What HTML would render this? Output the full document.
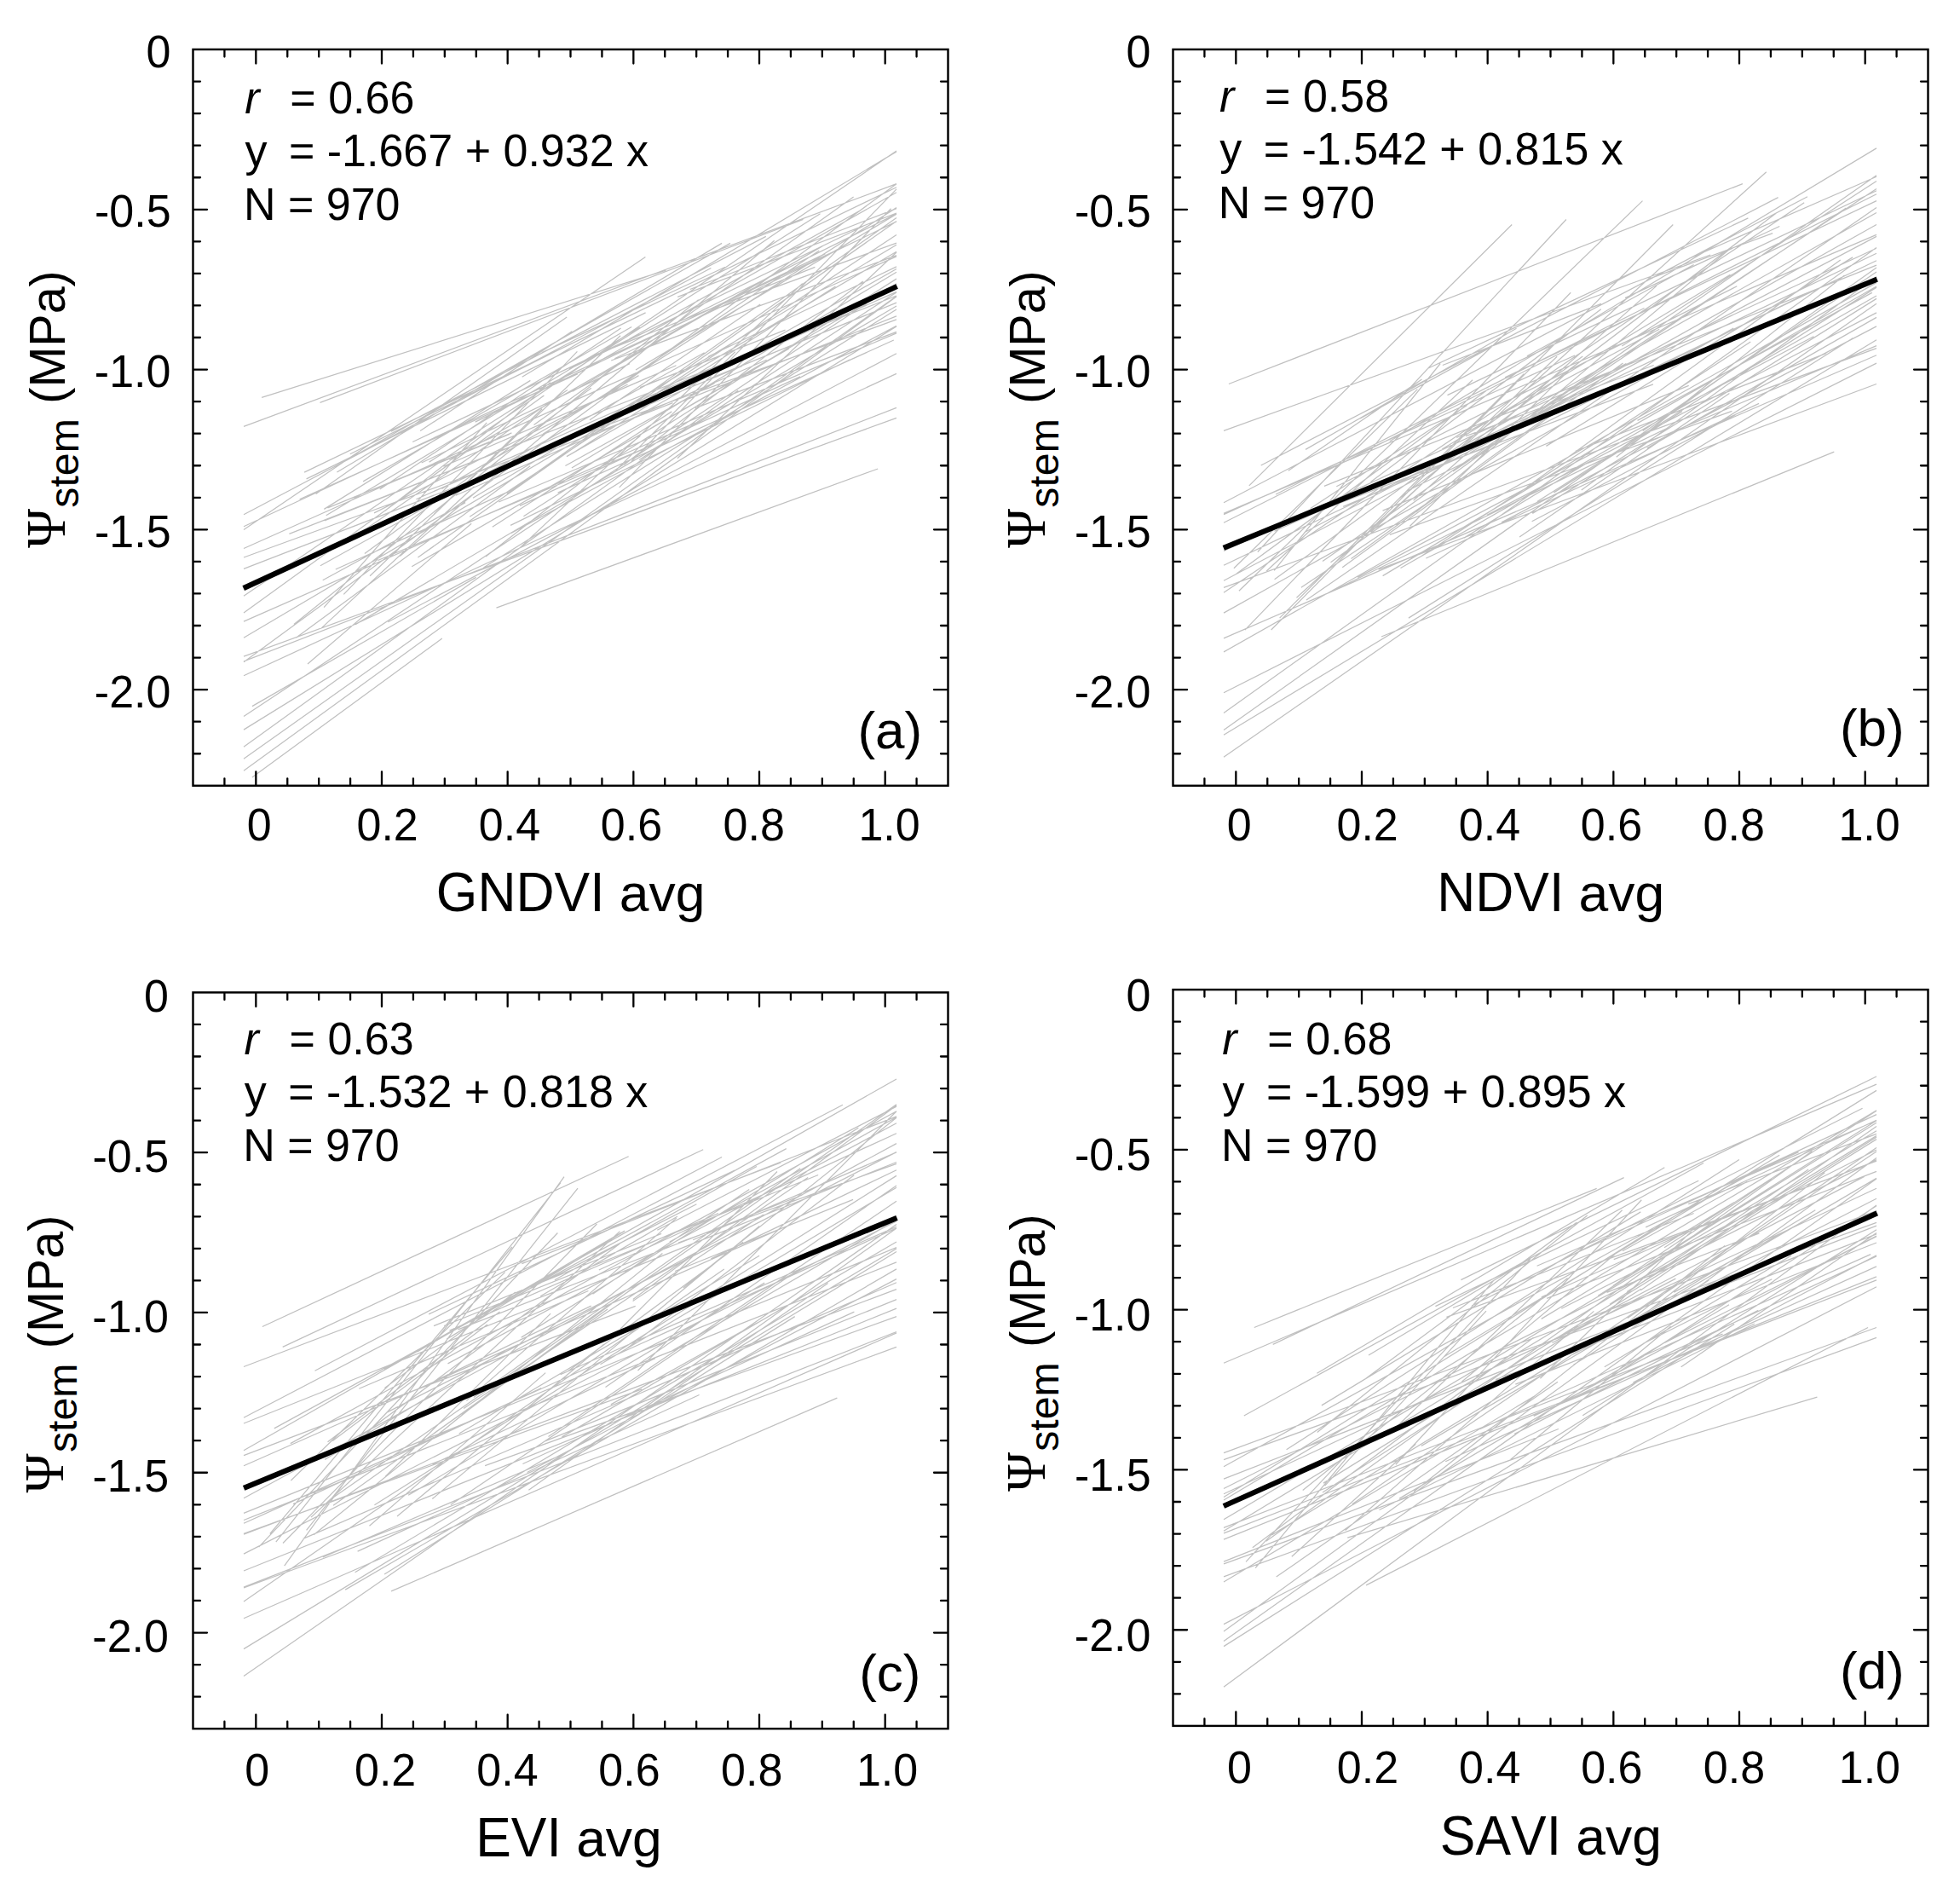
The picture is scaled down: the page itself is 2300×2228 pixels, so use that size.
<!DOCTYPE html>
<html><head><meta charset="utf-8"><title>Figure</title><style>
html,body{margin:0;padding:0;background:#fff;}
svg{display:block;}
text{fill:#000;font-kerning:none;}
.sans{font-family:'Liberation Sans',Arial,sans-serif;}
.serif{font-family:'Liberation Serif','Times New Roman',serif;}
.it{font-style:italic;}
</style></head><body>
<svg xmlns="http://www.w3.org/2000/svg" width="2300" height="2228" viewBox="0 0 2300 2228">
<rect width="2300" height="2228" fill="#fff"/>
<path d="M286.0 500.3L1052.0 215.7M286.0 603.7L834.4 314.5M286.0 617.7L1014.6 278.3M286.0 621.6L757.4 301.4M286.0 643.5L1052.0 300.9M286.0 667.4L789.5 472.7M286.0 699.2L1052.0 177.0M286.0 719.1L638.4 464.0M286.0 729.1L815.9 496.1M286.0 776.8L1052.0 215.7M286.0 792.8L1052.0 438.4M286.0 840.5L1052.0 332.7M286.0 876.3L866.3 457.9M286.0 890.3L1052.0 347.4M286.0 904.2L1052.0 348.1M612.7 442.3L1052.0 177.9M357.1 554.1L1052.0 219.7M678.8 437.5L1052.0 225.7M637.1 509.2L1052.0 243.6M595.0 579.0L1052.0 255.5M490.4 653.9L1052.0 259.5M551.2 606.2L1052.0 275.4M555.0 584.3L1052.0 287.3M286.0 748.3L1052.0 295.3M670.9 549.0L1052.0 319.2M614.4 605.8L1052.0 327.1M654.7 565.9L1052.0 335.1M339.4 626.3L1052.0 347.0M417.5 732.4L1052.0 359.0M567.4 666.0L1052.0 363.0M286.0 654.0L1052.0 374.9M286.0 856.1L1052.0 382.9M585.2 589.0L1052.0 390.8M455.3 729.8L1052.0 414.7M286.0 775.9L1052.0 478.4M286.0 770.2L1052.0 490.3M307.1 466.4L781.4 317.2M375.5 472.4L942.6 257.5M582.5 713.2L1030.2 550.0M295.9 912.1L518.8 749.0M295.9 828.6L558.6 677.4M417.3 534.1L857.0 285.4M459.1 506.2L898.8 277.4M395.4 554.0L847.1 285.4M359.6 561.9L757.6 366.9M351.6 585.8L678.0 438.6M361.0 779.0L553.2 614.2M600.0 625.4L1052.0 382.2M746.0 434.0L1052.0 251.2M441.0 573.3L597.9 509.4M671.9 459.2L965.3 288.6M726.7 571.9L1045.5 244.8M458.3 653.2L636.1 479.7M518.4 573.5L749.5 440.6M654.6 578.1L1048.8 399.0M795.2 348.4L1052.0 250.1M382.7 604.8L750.7 384.0M577.8 618.2L788.3 482.9M376.7 737.4L556.5 570.7M445.7 574.0L728.6 385.1M664.9 535.6L1052.0 315.5M797.8 471.8L1052.0 370.8M378.7 680.7L546.1 589.6M488.4 585.7L890.0 408.6M380.3 597.4L622.4 446.4M410.8 532.7L671.1 402.8M557.6 495.1L968.5 297.6M804.6 374.0L1052.0 250.9M520.4 547.3L793.5 428.7M717.2 423.0L1052.0 299.6M610.4 642.4L941.6 332.6M710.7 493.9L1052.0 342.4M599.1 616.4L997.1 422.0M674.2 530.2L980.5 336.0M794.9 537.7L1052.0 296.0M740.6 541.8L1052.0 221.9M493.1 505.4L671.3 388.8M370.7 579.6L665.2 371.9M393.8 668.0L595.5 577.4M635.6 413.9L850.6 313.5M716.5 458.1L961.3 294.0M469.3 652.5L908.7 282.2M815.8 478.9L1052.0 389.4M738.4 397.7L1007.9 247.9M832.3 365.1L1052.0 285.1M417.7 628.8L665.9 457.5M722.9 551.6L862.7 412.8M380.7 610.8L611.3 519.3M732.3 545.2L1012.7 330.1M443.4 657.5L766.5 521.8M494.6 543.0L739.0 426.6M695.4 417.7L956.4 313.3M527.3 540.4L906.8 322.4M344.9 732.4L819.6 351.7M484.2 518.5L750.6 392.4M534.8 581.2L899.6 422.2M503.6 542.1L962.5 250.7M751.0 454.6L921.5 387.1M692.0 492.7L892.2 357.0M384.5 595.8L600.4 507.9M375.9 663.7L826.6 413.8M721.2 420.7L1052.0 259.9M347.4 748.3L622.2 546.8M668.1 432.9L1013.3 265.2M663.4 546.5L838.6 449.5M750.2 539.5L1052.0 342.9M612.4 536.3L871.0 429.3M809.7 339.5L1052.0 244.6M626.5 498.6L1001.6 231.1M570.0 652.9L751.3 511.4M610.0 593.4L939.0 441.9M833.2 444.2L1052.0 355.2M483.2 664.8L926.0 409.0M830.7 418.5L1052.0 312.9M439.0 601.9L736.6 451.0M426.1 564.9L741.2 383.5M403.3 697.4L677.4 412.4M434.1 675.8L728.1 393.8M380.1 712.7L571.2 495.8M451.8 599.3L646.1 448.7M427.9 649.6L693.9 455.2" stroke="#c0c0c0" stroke-width="1.25" fill="none"/>
<path d="M285.7 690.1L1052.6 336.0" stroke="#000" stroke-width="6.3" fill="none"/>
<path d="M263.42 920.8V913.3M263.42 59V66.5M300.33 920.8V905.3M300.33 59V74.5M337.25 920.8V913.3M337.25 59V66.5M374.17 920.8V913.3M374.17 59V66.5M411.08 920.8V913.3M411.08 59V66.5M448 920.8V905.3M448 59V74.5M484.92 920.8V913.3M484.92 59V66.5M521.83 920.8V913.3M521.83 59V66.5M558.75 920.8V913.3M558.75 59V66.5M595.67 920.8V905.3M595.67 59V74.5M632.58 920.8V913.3M632.58 59V66.5M669.5 920.8V913.3M669.5 59V66.5M706.42 920.8V913.3M706.42 59V66.5M743.33 920.8V905.3M743.33 59V74.5M780.25 920.8V913.3M780.25 59V66.5M817.17 920.8V913.3M817.17 59V66.5M854.08 920.8V913.3M854.08 59V66.5M891 920.8V905.3M891 59V74.5M927.92 920.8V913.3M927.92 59V66.5M964.83 920.8V913.3M964.83 59V66.5M1001.75 920.8V913.3M1001.75 59V66.5M1038.67 920.8V905.3M1038.67 59V74.5M1075.58 920.8V913.3M1075.58 59V66.5M227.5 95.56H235M1111.5 95.56H1104M227.5 133.11H235M1111.5 133.11H1104M227.5 170.67H235M1111.5 170.67H1104M227.5 208.23H235M1111.5 208.23H1104M227.5 245.78H243M1111.5 245.78H1096M227.5 283.34H235M1111.5 283.34H1104M227.5 320.9H235M1111.5 320.9H1104M227.5 358.45H235M1111.5 358.45H1104M227.5 396.01H235M1111.5 396.01H1104M227.5 433.57H243M1111.5 433.57H1096M227.5 471.12H235M1111.5 471.12H1104M227.5 508.68H235M1111.5 508.68H1104M227.5 546.23H235M1111.5 546.23H1104M227.5 583.79H235M1111.5 583.79H1104M227.5 621.35H243M1111.5 621.35H1096M227.5 658.9H235M1111.5 658.9H1104M227.5 696.46H235M1111.5 696.46H1104M227.5 734.02H235M1111.5 734.02H1104M227.5 771.57H235M1111.5 771.57H1104M227.5 809.13H243M1111.5 809.13H1096M227.5 846.69H235M1111.5 846.69H1104M227.5 884.24H235M1111.5 884.24H1104" stroke="#000" stroke-width="2.3" stroke-linecap="round" fill="none"/>
<rect x="226.5" y="58" width="886" height="863.8" stroke="#000" stroke-width="2.45" fill="none"/>
<text class="sans" transform="translate(171.51,78.60) scale(1,1.0350)" x="0.00" y="0" style="font-size:52.00px">0</text>
<text class="sans" transform="translate(110.98,266.38) scale(1,1.0000)" x="0.00" y="0" style="font-size:52.00px">-</text>
<text class="sans" transform="translate(128.30,266.38) scale(1,1.0350)" x="0.00" y="0" style="font-size:52.00px">0</text>
<text class="sans" transform="translate(157.22,266.38) scale(1,1.0000)" x="0.00" y="0" style="font-size:52.00px">.</text>
<text class="sans" transform="translate(171.66,266.38) scale(1,1.0350)" x="0.00" y="0" style="font-size:52.00px">5</text>
<text class="sans" transform="translate(110.83,454.17) scale(1,1.0000)" x="0.00" y="0" style="font-size:52.00px">-</text>
<text class="sans" transform="translate(128.14,454.17) scale(1,1.0350)" x="0.00" y="0" style="font-size:52.00px">1</text>
<text class="sans" transform="translate(157.06,454.17) scale(1,1.0000)" x="0.00" y="0" style="font-size:52.00px">.</text>
<text class="sans" transform="translate(171.51,454.17) scale(1,1.0350)" x="0.00" y="0" style="font-size:52.00px">0</text>
<text class="sans" transform="translate(110.98,641.95) scale(1,1.0000)" x="0.00" y="0" style="font-size:52.00px">-</text>
<text class="sans" transform="translate(128.30,641.95) scale(1,1.0350)" x="0.00" y="0" style="font-size:52.00px">1</text>
<text class="sans" transform="translate(157.22,641.95) scale(1,1.0000)" x="0.00" y="0" style="font-size:52.00px">.</text>
<text class="sans" transform="translate(171.66,641.95) scale(1,1.0350)" x="0.00" y="0" style="font-size:52.00px">5</text>
<text class="sans" transform="translate(110.83,829.73) scale(1,1.0000)" x="0.00" y="0" style="font-size:52.00px">-</text>
<text class="sans" transform="translate(128.14,829.73) scale(1,1.0350)" x="0.00" y="0" style="font-size:52.00px">2</text>
<text class="sans" transform="translate(157.06,829.73) scale(1,1.0000)" x="0.00" y="0" style="font-size:52.00px">.</text>
<text class="sans" transform="translate(171.51,829.73) scale(1,1.0350)" x="0.00" y="0" style="font-size:52.00px">0</text>
<text class="sans" transform="translate(289.77,986.30) scale(1,1.0350)" x="0.00" y="0" style="font-size:52.00px">0</text>
<text class="sans" transform="translate(418.47,986.30) scale(1,1.0350)" x="0.00" y="0" style="font-size:52.00px">0</text>
<text class="sans" transform="translate(447.39,986.30) scale(1,1.0000)" x="0.00" y="0" style="font-size:52.00px">.</text>
<text class="sans" transform="translate(461.84,986.30) scale(1,1.0350)" x="0.00" y="0" style="font-size:52.00px">2</text>
<text class="sans" transform="translate(561.77,986.30) scale(1,1.0350)" x="0.00" y="0" style="font-size:52.00px">0</text>
<text class="sans" transform="translate(590.69,986.30) scale(1,1.0000)" x="0.00" y="0" style="font-size:52.00px">.</text>
<text class="sans" transform="translate(605.14,986.30) scale(1,1.0350)" x="0.00" y="0" style="font-size:52.00px">4</text>
<text class="sans" transform="translate(704.87,986.30) scale(1,1.0350)" x="0.00" y="0" style="font-size:52.00px">0</text>
<text class="sans" transform="translate(733.79,986.30) scale(1,1.0000)" x="0.00" y="0" style="font-size:52.00px">.</text>
<text class="sans" transform="translate(748.24,986.30) scale(1,1.0350)" x="0.00" y="0" style="font-size:52.00px">6</text>
<text class="sans" transform="translate(848.57,986.30) scale(1,1.0350)" x="0.00" y="0" style="font-size:52.00px">0</text>
<text class="sans" transform="translate(877.49,986.30) scale(1,1.0000)" x="0.00" y="0" style="font-size:52.00px">.</text>
<text class="sans" transform="translate(891.94,986.30) scale(1,1.0350)" x="0.00" y="0" style="font-size:52.00px">8</text>
<text class="sans" transform="translate(1007.44,986.30) scale(1,1.0350)" x="0.00" y="0" style="font-size:52.00px">1</text>
<text class="sans" transform="translate(1036.36,986.30) scale(1,1.0000)" x="0.00" y="0" style="font-size:52.00px">.</text>
<text class="sans" transform="translate(1050.81,986.30) scale(1,1.0350)" x="0.00" y="0" style="font-size:52.00px">0</text>
<text class="sans" transform="translate(511.86,1068.90) scale(1,1.0350)" x="0.00 48.54 93.60 138.66 180.28" y="0" style="font-size:62.40px">GNDVI</text>
<text class="sans" transform="translate(726.82,1068.90) scale(1,0.9850)" x="0.00 34.70 65.90" y="0" style="font-size:62.40px">avg</text>
<text class="serif" transform="translate(75.70,642.98) rotate(-90) scale(1,1.0350)" x="0.00" y="0" style="font-size:62.60px">Ψ</text>
<text class="sans" transform="translate(91.70,595.64) rotate(-90) scale(1,0.9850)" x="0.00 24.10 37.49 64.30" y="0" style="font-size:48.20px">stem</text>
<text class="sans" transform="translate(75.90,473.77) rotate(-90) scale(1,1.0000)" x="0.00" y="0" style="font-size:57.50px">(</text>
<text class="sans" transform="translate(75.90,454.62) rotate(-90) scale(1,1.0350)" x="0.00 47.90" y="0" style="font-size:57.50px">MP</text>
<text class="sans" transform="translate(75.90,368.37) rotate(-90) scale(1,0.9850)" x="0.00" y="0" style="font-size:57.50px">a</text>
<text class="sans" transform="translate(75.90,336.39) rotate(-90) scale(1,1.0000)" x="0.00" y="0" style="font-size:57.50px">)</text>
<text class="sans it" transform="translate(287.24,132.70) scale(1,0.9850)" x="0.00" y="0" style="font-size:52.00px">r</text>
<text class="sans" transform="translate(340.36,132.70) scale(1,1.0000)" x="0.00" y="0" style="font-size:52.00px">=</text>
<text class="sans" transform="translate(385.18,132.70) scale(1,1.0350)" x="0.00" y="0" style="font-size:52.00px">0</text>
<text class="sans" transform="translate(414.10,132.70) scale(1,1.0000)" x="0.00" y="0" style="font-size:52.00px">.</text>
<text class="sans" transform="translate(428.54,132.70) scale(1,1.0350)" x="0.00 28.92" y="0" style="font-size:52.00px">66</text>
<text class="sans" transform="translate(287.47,195.00) scale(1,0.9850)" x="0.00" y="0" style="font-size:52.00px">y</text>
<text class="sans" transform="translate(338.96,195.00) scale(1,1.0000)" x="0.00 30.37 44.81" y="0" style="font-size:52.00px">= -</text>
<text class="sans" transform="translate(401.09,195.00) scale(1,1.0350)" x="0.00" y="0" style="font-size:52.00px">1</text>
<text class="sans" transform="translate(430.01,195.00) scale(1,1.0000)" x="0.00" y="0" style="font-size:52.00px">.</text>
<text class="sans" transform="translate(444.46,195.00) scale(1,1.0350)" x="0.00 28.92 57.84" y="0" style="font-size:52.00px">667</text>
<text class="sans" transform="translate(545.67,195.00) scale(1,1.0000)" x="0.00" y="0" style="font-size:52.00px">+</text>
<text class="sans" transform="translate(590.48,195.00) scale(1,1.0350)" x="0.00" y="0" style="font-size:52.00px">0</text>
<text class="sans" transform="translate(619.40,195.00) scale(1,1.0000)" x="0.00" y="0" style="font-size:52.00px">.</text>
<text class="sans" transform="translate(633.85,195.00) scale(1,1.0350)" x="0.00 28.92 57.84" y="0" style="font-size:52.00px">932</text>
<text class="sans" transform="translate(735.05,195.00) scale(1,0.9850)" x="0.00" y="0" style="font-size:52.00px">x</text>
<text class="sans" transform="translate(285.93,257.60) scale(1,1.0350)" x="0.00" y="0" style="font-size:52.00px">N</text>
<text class="sans" transform="translate(337.93,257.60) scale(1,1.0000)" x="0.00" y="0" style="font-size:52.00px">=</text>
<text class="sans" transform="translate(382.75,257.60) scale(1,1.0350)" x="0.00 28.92 57.84" y="0" style="font-size:52.00px">970</text>
<text class="sans" transform="translate(1006.41,877.70) scale(1,1.0000)" x="0.00" y="0" style="font-size:62.00px">(</text>
<text class="sans" transform="translate(1027.06,877.70) scale(1,0.9850)" x="0.00" y="0" style="font-size:62.00px">a</text>
<text class="sans" transform="translate(1061.54,877.70) scale(1,1.0000)" x="0.00" y="0" style="font-size:62.00px">)</text>
<path d="M1436.0 505.4L2007.2 299.0M1436.0 589.8L2121.0 230.7M1436.0 603.7L1848.0 417.0M1436.0 681.3L2202.0 277.4M1436.0 695.3L2117.2 237.7M1436.0 719.1L2034.2 385.1M1436.0 764.9L2202.0 331.6M1436.0 812.7L2202.0 426.1M1436.0 836.5L2202.0 290.4M1436.0 856.4L2202.0 314.1M1436.0 888.3L2202.0 356.3M1630.7 517.8L2202.0 173.9M1552.0 658.4L2202.0 205.8M1698.5 463.6L2202.0 223.7M1436.0 613.2L2202.0 227.7M1766.1 442.9L2202.0 235.6M1533.0 704.0L2202.0 243.6M1667.7 550.8L2202.0 249.5M1724.5 531.5L2202.0 263.5M1436.0 602.4L2202.0 275.4M1436.0 646.5L2202.0 291.3M1436.0 663.2L2202.0 297.3M1553.9 570.4L2202.0 311.2M1803.8 588.5L2202.0 337.1M1643.5 666.5L2202.0 347.0M1744.9 604.2L2202.0 366.9M1762.0 612.9L2202.0 382.9M1436.0 862.3L2202.0 398.8M1436.0 689.4L2202.0 408.7M1436.0 748.9L2202.0 416.7M1617.6 668.2L2202.0 450.5M1465.8 569.9L1774.2 263.5M1475.8 647.5L1837.9 257.5M1453.9 693.3L1927.5 235.6M1491.7 739.0L1963.3 263.5M1521.5 701.2L2072.7 201.8M1621.0 747.0L2152.3 530.1M1479.7 546.0L2086.6 231.6M1441.9 450.5L2044.9 215.7M1501.6 725.1L1788.2 438.6M1652.9 725.1L2174.2 396.8M1593.2 677.4L2128.4 394.8M1673.4 655.0L2064.1 473.4M1718.4 630.9L1862.3 543.2M1929.8 436.7L2202.0 305.8M1675.1 432.5L2051.4 255.9M1692.2 527.0L2030.4 322.2M1538.0 603.2L1939.9 450.8M1791.7 571.4L2159.7 304.9M1495.5 623.3L1827.6 474.4M1936.0 326.8L2080.2 273.6M1575.2 665.7L1904.5 426.1M1526.9 689.2L1690.0 580.0M1906.7 505.1L2202.0 336.0M1630.8 627.3L2032.4 482.3M1692.8 428.5L1879.0 356.4M1530.5 624.7L1908.3 426.6M1709.3 513.5L1947.2 386.3M1783.1 630.0L2029.4 461.4M1797.6 611.8L2036.4 486.8M1982.0 303.4L2202.0 207.2M1705.1 553.0L2166.4 243.9M1622.6 675.6L1915.3 499.6M1650.8 576.2L2118.1 345.2M1596.2 491.0L1748.0 408.1M1576.2 594.3L1753.7 520.2M1932.7 525.9L2202.0 372.4M1668.3 652.3L2054.3 401.0M1759.9 512.0L2202.0 221.5M1823.4 577.9L1974.0 482.7M1814.4 523.4L2174.1 301.9M1511.8 552.3L1668.5 444.9M1930.1 520.5L2202.0 405.6M1720.2 511.7L1940.7 428.5M1907.0 349.6L2088.3 265.5M1798.3 602.4L2202.0 350.4M1896.7 536.2L2164.5 323.0M1532.0 527.4L1779.5 385.3M1791.9 417.8L1987.6 310.5M1559.5 695.3L1955.0 503.0M1927.7 505.6L2202.0 319.0M1903.3 406.0L2202.0 212.5M1568.3 570.8L2038.3 335.8M1848.8 529.3L2143.4 414.3M1497.1 580.0L1929.5 361.5M1855.7 575.0L2202.0 324.8M1641.7 585.0L2084.1 250.2M1921.5 493.4L2196.8 343.4M1495.6 679.7L1857.3 418.1M1622.5 599.2L1981.7 452.3M1563.4 592.5L1703.6 530.4M1537.8 596.6L1721.2 475.7M1460.9 739.1L1843.2 343.3M1608.4 565.6L1878.8 362.8M1447.9 666.7L1663.4 456.6M1654.5 617.2L1841.7 434.1M1495.2 669.3L1690.2 426.5M1561.5 659.7L1925.1 397.9M1608.6 624.5L1827.2 418.2M1658.6 587.3L1943.9 335.4M1585.5 655.5L1827.3 480.3M1662.1 600.4L2031.8 290.4M1451.1 673.0L1747.0 456.3M1486.2 670.0L1728.1 445.8" stroke="#c0c0c0" stroke-width="1.25" fill="none"/>
<path d="M1435.8 642.9L2202.7 327.7" stroke="#000" stroke-width="6.3" fill="none"/>
<path d="M1413.42 920.8V913.3M1413.42 59V66.5M1450.33 920.8V905.3M1450.33 59V74.5M1487.25 920.8V913.3M1487.25 59V66.5M1524.17 920.8V913.3M1524.17 59V66.5M1561.08 920.8V913.3M1561.08 59V66.5M1598 920.8V905.3M1598 59V74.5M1634.92 920.8V913.3M1634.92 59V66.5M1671.83 920.8V913.3M1671.83 59V66.5M1708.75 920.8V913.3M1708.75 59V66.5M1745.67 920.8V905.3M1745.67 59V74.5M1782.58 920.8V913.3M1782.58 59V66.5M1819.5 920.8V913.3M1819.5 59V66.5M1856.42 920.8V913.3M1856.42 59V66.5M1893.33 920.8V905.3M1893.33 59V74.5M1930.25 920.8V913.3M1930.25 59V66.5M1967.17 920.8V913.3M1967.17 59V66.5M2004.08 920.8V913.3M2004.08 59V66.5M2041 920.8V905.3M2041 59V74.5M2077.92 920.8V913.3M2077.92 59V66.5M2114.83 920.8V913.3M2114.83 59V66.5M2151.75 920.8V913.3M2151.75 59V66.5M2188.67 920.8V905.3M2188.67 59V74.5M2225.58 920.8V913.3M2225.58 59V66.5M1377.5 95.56H1385M2261.5 95.56H2254M1377.5 133.11H1385M2261.5 133.11H2254M1377.5 170.67H1385M2261.5 170.67H2254M1377.5 208.23H1385M2261.5 208.23H2254M1377.5 245.78H1393M2261.5 245.78H2246M1377.5 283.34H1385M2261.5 283.34H2254M1377.5 320.9H1385M2261.5 320.9H2254M1377.5 358.45H1385M2261.5 358.45H2254M1377.5 396.01H1385M2261.5 396.01H2254M1377.5 433.57H1393M2261.5 433.57H2246M1377.5 471.12H1385M2261.5 471.12H2254M1377.5 508.68H1385M2261.5 508.68H2254M1377.5 546.23H1385M2261.5 546.23H2254M1377.5 583.79H1385M2261.5 583.79H2254M1377.5 621.35H1393M2261.5 621.35H2246M1377.5 658.9H1385M2261.5 658.9H2254M1377.5 696.46H1385M2261.5 696.46H2254M1377.5 734.02H1385M2261.5 734.02H2254M1377.5 771.57H1385M2261.5 771.57H2254M1377.5 809.13H1393M2261.5 809.13H2246M1377.5 846.69H1385M2261.5 846.69H2254M1377.5 884.24H1385M2261.5 884.24H2254" stroke="#000" stroke-width="2.3" stroke-linecap="round" fill="none"/>
<rect x="1376.5" y="58" width="886" height="863.8" stroke="#000" stroke-width="2.45" fill="none"/>
<text class="sans" transform="translate(1321.51,78.60) scale(1,1.0350)" x="0.00" y="0" style="font-size:52.00px">0</text>
<text class="sans" transform="translate(1260.98,266.38) scale(1,1.0000)" x="0.00" y="0" style="font-size:52.00px">-</text>
<text class="sans" transform="translate(1278.30,266.38) scale(1,1.0350)" x="0.00" y="0" style="font-size:52.00px">0</text>
<text class="sans" transform="translate(1307.22,266.38) scale(1,1.0000)" x="0.00" y="0" style="font-size:52.00px">.</text>
<text class="sans" transform="translate(1321.66,266.38) scale(1,1.0350)" x="0.00" y="0" style="font-size:52.00px">5</text>
<text class="sans" transform="translate(1260.83,454.17) scale(1,1.0000)" x="0.00" y="0" style="font-size:52.00px">-</text>
<text class="sans" transform="translate(1278.14,454.17) scale(1,1.0350)" x="0.00" y="0" style="font-size:52.00px">1</text>
<text class="sans" transform="translate(1307.06,454.17) scale(1,1.0000)" x="0.00" y="0" style="font-size:52.00px">.</text>
<text class="sans" transform="translate(1321.51,454.17) scale(1,1.0350)" x="0.00" y="0" style="font-size:52.00px">0</text>
<text class="sans" transform="translate(1260.98,641.95) scale(1,1.0000)" x="0.00" y="0" style="font-size:52.00px">-</text>
<text class="sans" transform="translate(1278.30,641.95) scale(1,1.0350)" x="0.00" y="0" style="font-size:52.00px">1</text>
<text class="sans" transform="translate(1307.22,641.95) scale(1,1.0000)" x="0.00" y="0" style="font-size:52.00px">.</text>
<text class="sans" transform="translate(1321.66,641.95) scale(1,1.0350)" x="0.00" y="0" style="font-size:52.00px">5</text>
<text class="sans" transform="translate(1260.83,829.73) scale(1,1.0000)" x="0.00" y="0" style="font-size:52.00px">-</text>
<text class="sans" transform="translate(1278.14,829.73) scale(1,1.0350)" x="0.00" y="0" style="font-size:52.00px">2</text>
<text class="sans" transform="translate(1307.06,829.73) scale(1,1.0000)" x="0.00" y="0" style="font-size:52.00px">.</text>
<text class="sans" transform="translate(1321.51,829.73) scale(1,1.0350)" x="0.00" y="0" style="font-size:52.00px">0</text>
<text class="sans" transform="translate(1439.77,986.30) scale(1,1.0350)" x="0.00" y="0" style="font-size:52.00px">0</text>
<text class="sans" transform="translate(1568.47,986.30) scale(1,1.0350)" x="0.00" y="0" style="font-size:52.00px">0</text>
<text class="sans" transform="translate(1597.39,986.30) scale(1,1.0000)" x="0.00" y="0" style="font-size:52.00px">.</text>
<text class="sans" transform="translate(1611.84,986.30) scale(1,1.0350)" x="0.00" y="0" style="font-size:52.00px">2</text>
<text class="sans" transform="translate(1711.77,986.30) scale(1,1.0350)" x="0.00" y="0" style="font-size:52.00px">0</text>
<text class="sans" transform="translate(1740.69,986.30) scale(1,1.0000)" x="0.00" y="0" style="font-size:52.00px">.</text>
<text class="sans" transform="translate(1755.14,986.30) scale(1,1.0350)" x="0.00" y="0" style="font-size:52.00px">4</text>
<text class="sans" transform="translate(1854.87,986.30) scale(1,1.0350)" x="0.00" y="0" style="font-size:52.00px">0</text>
<text class="sans" transform="translate(1883.79,986.30) scale(1,1.0000)" x="0.00" y="0" style="font-size:52.00px">.</text>
<text class="sans" transform="translate(1898.24,986.30) scale(1,1.0350)" x="0.00" y="0" style="font-size:52.00px">6</text>
<text class="sans" transform="translate(1998.57,986.30) scale(1,1.0350)" x="0.00" y="0" style="font-size:52.00px">0</text>
<text class="sans" transform="translate(2027.49,986.30) scale(1,1.0000)" x="0.00" y="0" style="font-size:52.00px">.</text>
<text class="sans" transform="translate(2041.94,986.30) scale(1,1.0350)" x="0.00" y="0" style="font-size:52.00px">8</text>
<text class="sans" transform="translate(2157.44,986.30) scale(1,1.0350)" x="0.00" y="0" style="font-size:52.00px">1</text>
<text class="sans" transform="translate(2186.36,986.30) scale(1,1.0000)" x="0.00" y="0" style="font-size:52.00px">.</text>
<text class="sans" transform="translate(2200.81,986.30) scale(1,1.0350)" x="0.00" y="0" style="font-size:52.00px">0</text>
<text class="sans" transform="translate(1686.19,1068.90) scale(1,1.0350)" x="0.00 45.06 90.13 131.75" y="0" style="font-size:62.40px">NDVI</text>
<text class="sans" transform="translate(1852.61,1068.90) scale(1,0.9850)" x="0.00 34.70 65.90" y="0" style="font-size:62.40px">avg</text>
<text class="serif" transform="translate(1225.70,642.98) rotate(-90) scale(1,1.0350)" x="0.00" y="0" style="font-size:62.60px">Ψ</text>
<text class="sans" transform="translate(1241.70,595.64) rotate(-90) scale(1,0.9850)" x="0.00 24.10 37.49 64.30" y="0" style="font-size:48.20px">stem</text>
<text class="sans" transform="translate(1225.90,473.77) rotate(-90) scale(1,1.0000)" x="0.00" y="0" style="font-size:57.50px">(</text>
<text class="sans" transform="translate(1225.90,454.62) rotate(-90) scale(1,1.0350)" x="0.00 47.90" y="0" style="font-size:57.50px">MP</text>
<text class="sans" transform="translate(1225.90,368.37) rotate(-90) scale(1,0.9850)" x="0.00" y="0" style="font-size:57.50px">a</text>
<text class="sans" transform="translate(1225.90,336.39) rotate(-90) scale(1,1.0000)" x="0.00" y="0" style="font-size:57.50px">)</text>
<text class="sans it" transform="translate(1430.94,130.60) scale(1,0.9850)" x="0.00" y="0" style="font-size:52.00px">r</text>
<text class="sans" transform="translate(1484.06,130.60) scale(1,1.0000)" x="0.00" y="0" style="font-size:52.00px">=</text>
<text class="sans" transform="translate(1528.88,130.60) scale(1,1.0350)" x="0.00" y="0" style="font-size:52.00px">0</text>
<text class="sans" transform="translate(1557.80,130.60) scale(1,1.0000)" x="0.00" y="0" style="font-size:52.00px">.</text>
<text class="sans" transform="translate(1572.24,130.60) scale(1,1.0350)" x="0.00 28.92" y="0" style="font-size:52.00px">58</text>
<text class="sans" transform="translate(1431.17,192.90) scale(1,0.9850)" x="0.00" y="0" style="font-size:52.00px">y</text>
<text class="sans" transform="translate(1482.66,192.90) scale(1,1.0000)" x="0.00 30.37 44.81" y="0" style="font-size:52.00px">= -</text>
<text class="sans" transform="translate(1544.79,192.90) scale(1,1.0350)" x="0.00" y="0" style="font-size:52.00px">1</text>
<text class="sans" transform="translate(1573.71,192.90) scale(1,1.0000)" x="0.00" y="0" style="font-size:52.00px">.</text>
<text class="sans" transform="translate(1588.16,192.90) scale(1,1.0350)" x="0.00 28.92 57.84" y="0" style="font-size:52.00px">542</text>
<text class="sans" transform="translate(1689.37,192.90) scale(1,1.0000)" x="0.00" y="0" style="font-size:52.00px">+</text>
<text class="sans" transform="translate(1734.18,192.90) scale(1,1.0350)" x="0.00" y="0" style="font-size:52.00px">0</text>
<text class="sans" transform="translate(1763.10,192.90) scale(1,1.0000)" x="0.00" y="0" style="font-size:52.00px">.</text>
<text class="sans" transform="translate(1777.55,192.90) scale(1,1.0350)" x="0.00 28.92 57.84" y="0" style="font-size:52.00px">815</text>
<text class="sans" transform="translate(1878.75,192.90) scale(1,0.9850)" x="0.00" y="0" style="font-size:52.00px">x</text>
<text class="sans" transform="translate(1429.63,255.50) scale(1,1.0350)" x="0.00" y="0" style="font-size:52.00px">N</text>
<text class="sans" transform="translate(1481.63,255.50) scale(1,1.0000)" x="0.00" y="0" style="font-size:52.00px">=</text>
<text class="sans" transform="translate(1526.45,255.50) scale(1,1.0350)" x="0.00 28.92 57.84" y="0" style="font-size:52.00px">970</text>
<text class="sans" transform="translate(2158.91,874.90) scale(1,1.0000)" x="0.00" y="0" style="font-size:62.00px">(</text>
<text class="sans" transform="translate(2179.56,874.90) scale(1,0.9850)" x="0.00" y="0" style="font-size:62.00px">b</text>
<text class="sans" transform="translate(2214.04,874.90) scale(1,1.0000)" x="0.00" y="0" style="font-size:62.00px">)</text>
<path d="M286.0 1603.5L916.4 1363.9M286.0 1663.2L989.0 1296.2M286.0 1701.8L682.5 1475.3M286.0 1707.7L745.7 1532.4M286.0 1719.7L921.6 1439.3M286.0 1775.4L1052.0 1463.7M286.0 1787.3L1052.0 1440.9M286.0 1799.3L753.2 1629.9M286.0 1823.1L1052.0 1432.6M286.0 1843.0L1052.0 1535.2M286.0 1878.9L849.8 1488.9M286.0 1898.8L1052.0 1563.9M286.0 1934.6L1052.0 1468.5M286.0 1966.4L1052.0 1436.6M450.7 1606.4L1052.0 1266.0M391.4 1756.8L1052.0 1295.8M340.8 1693.6L1052.0 1303.8M612.3 1482.7L1052.0 1309.8M525.5 1599.9L1052.0 1317.7M702.8 1490.0L1052.0 1329.7M286.0 1757.7L1052.0 1341.6M454.5 1656.9L1052.0 1351.6M286.0 1670.0L1052.0 1363.5M439.4 1765.7L1052.0 1379.4M704.5 1600.8L1052.0 1393.3M643.5 1685.4L1052.0 1409.3M620.4 1748.3L1052.0 1441.1M659.4 1685.9L1052.0 1457.0M416.6 1844.7L1052.0 1465.0M286.0 1783.5L1052.0 1480.9M405.2 1865.1L1052.0 1488.9M355.6 1805.4L1052.0 1504.8M286.0 1800.1L1052.0 1512.7M639.5 1690.9L1052.0 1524.7M569.1 1719.6L1052.0 1544.6M286.0 1862.2L1052.0 1562.5M286.0 1863.0L1052.0 1580.4M333.7 1837.1L662.0 1380.6M323.8 1809.2L658.1 1387.4M307.9 1556.5L737.7 1356.7M331.7 1580.4L825.2 1348.8M369.5 1608.2L847.1 1357.5M459.1 1866.9L982.4 1640.1M321.8 1675.9L922.7 1347.6M359.6 1795.3L678.0 1394.1M451.1 1847.0L932.7 1544.6M507.4 1718.2L768.9 1593.6M344.0 1764.6L635.2 1628.6M451.4 1628.5L604.9 1516.1M742.6 1526.4L895.9 1425.0M732.4 1584.6L1002.2 1378.7M433.5 1790.3L640.2 1610.6M421.3 1629.3L690.4 1514.5M716.8 1647.9L888.9 1551.8M787.1 1585.7L1052.0 1431.2M834.3 1476.9L1052.0 1372.8M466.0 1779.0L708.3 1577.6M801.8 1511.1L1052.0 1311.3M749.2 1659.3L971.6 1505.6M514.1 1618.4L693.7 1532.1M479.2 1754.3L897.2 1505.1M503.1 1541.9L862.2 1373.1M547.4 1643.4L793.8 1429.1M613.4 1717.5L1002.4 1539.1M378.9 1827.0L664.2 1704.8M695.5 1518.3L879.2 1395.6M489.7 1585.9L729.3 1446.0M634.2 1520.7L794.9 1427.2M771.3 1443.3L1052.0 1298.2M650.9 1501.8L888.0 1368.5M507.3 1758.6L891.2 1438.4M538.7 1682.0L891.1 1473.3M710.5 1627.6L1052.0 1390.9M528.8 1765.4L939.5 1488.2M785.8 1457.0L1052.0 1310.8M657.6 1612.7L1052.0 1439.2M792.1 1491.5L1001.1 1407.4M611.7 1569.1L1007.4 1323.2M527.5 1561.1L842.9 1423.5M666.2 1608.9L872.1 1457.3M544.1 1652.4L948.2 1381.4M645.4 1500.4L817.4 1412.8M521.2 1555.5L960.2 1378.5M537.5 1559.8L941.5 1402.0M742.8 1524.4L1052.0 1297.0M509.0 1555.7L776.1 1447.4M524.2 1571.1L733.1 1444.1M368.1 1800.8L777.4 1470.5M381.1 1712.4L595.0 1583.2M748.5 1608.0L1052.0 1303.7M451.8 1732.7L646.1 1541.1M813.2 1454.7L1052.0 1351.9M796.0 1458.1L1052.0 1365.3M618.6 1727.5L1052.0 1500.6M419.6 1820.1L820.6 1636.5M728.0 1559.3L912.0 1374.5M303.6 1815.1L654.4 1446.5M316.8 1799.5L600.9 1463.0M341.4 1737.0L592.6 1492.6M555.8 1639.5L939.2 1370.7M332.0 1810.5L700.4 1436.0M400.4 1702.0L727.2 1459.3M391.1 1766.2L713.0 1536.1M390.3 1690.6L572.0 1554.1M365.0 1780.1L727.4 1444.6M541.9 1660.0L746.0 1508.7M384.5 1691.7L586.5 1539.1" stroke="#c0c0c0" stroke-width="1.25" fill="none"/>
<path d="M286.1 1745.8L1052.5 1428.9" stroke="#000" stroke-width="6.3" fill="none"/>
<path d="M263.42 2027.2V2019.7M263.42 1165.4V1172.9M300.33 2027.2V2011.7M300.33 1165.4V1180.9M337.25 2027.2V2019.7M337.25 1165.4V1172.9M374.17 2027.2V2019.7M374.17 1165.4V1172.9M411.08 2027.2V2019.7M411.08 1165.4V1172.9M448 2027.2V2011.7M448 1165.4V1180.9M484.92 2027.2V2019.7M484.92 1165.4V1172.9M521.83 2027.2V2019.7M521.83 1165.4V1172.9M558.75 2027.2V2019.7M558.75 1165.4V1172.9M595.67 2027.2V2011.7M595.67 1165.4V1180.9M632.58 2027.2V2019.7M632.58 1165.4V1172.9M669.5 2027.2V2019.7M669.5 1165.4V1172.9M706.42 2027.2V2019.7M706.42 1165.4V1172.9M743.33 2027.2V2011.7M743.33 1165.4V1180.9M780.25 2027.2V2019.7M780.25 1165.4V1172.9M817.17 2027.2V2019.7M817.17 1165.4V1172.9M854.08 2027.2V2019.7M854.08 1165.4V1172.9M891 2027.2V2011.7M891 1165.4V1180.9M927.92 2027.2V2019.7M927.92 1165.4V1172.9M964.83 2027.2V2019.7M964.83 1165.4V1172.9M1001.75 2027.2V2019.7M1001.75 1165.4V1172.9M1038.67 2027.2V2011.7M1038.67 1165.4V1180.9M1075.58 2027.2V2019.7M1075.58 1165.4V1172.9M227.5 1201.96H235M1111.5 1201.96H1104M227.5 1239.51H235M1111.5 1239.51H1104M227.5 1277.07H235M1111.5 1277.07H1104M227.5 1314.63H235M1111.5 1314.63H1104M227.5 1352.18H243M1111.5 1352.18H1096M227.5 1389.74H235M1111.5 1389.74H1104M227.5 1427.3H235M1111.5 1427.3H1104M227.5 1464.85H235M1111.5 1464.85H1104M227.5 1502.41H235M1111.5 1502.41H1104M227.5 1539.97H243M1111.5 1539.97H1096M227.5 1577.52H235M1111.5 1577.52H1104M227.5 1615.08H235M1111.5 1615.08H1104M227.5 1652.63H235M1111.5 1652.63H1104M227.5 1690.19H235M1111.5 1690.19H1104M227.5 1727.75H243M1111.5 1727.75H1096M227.5 1765.3H235M1111.5 1765.3H1104M227.5 1802.86H235M1111.5 1802.86H1104M227.5 1840.42H235M1111.5 1840.42H1104M227.5 1877.97H235M1111.5 1877.97H1104M227.5 1915.53H243M1111.5 1915.53H1096M227.5 1953.09H235M1111.5 1953.09H1104M227.5 1990.64H235M1111.5 1990.64H1104" stroke="#000" stroke-width="2.3" stroke-linecap="round" fill="none"/>
<rect x="226.5" y="1164.4" width="886" height="863.8" stroke="#000" stroke-width="2.45" fill="none"/>
<text class="sans" transform="translate(169.01,1187.00) scale(1,1.0350)" x="0.00" y="0" style="font-size:52.00px">0</text>
<text class="sans" transform="translate(108.48,1374.78) scale(1,1.0000)" x="0.00" y="0" style="font-size:52.00px">-</text>
<text class="sans" transform="translate(125.80,1374.78) scale(1,1.0350)" x="0.00" y="0" style="font-size:52.00px">0</text>
<text class="sans" transform="translate(154.72,1374.78) scale(1,1.0000)" x="0.00" y="0" style="font-size:52.00px">.</text>
<text class="sans" transform="translate(169.16,1374.78) scale(1,1.0350)" x="0.00" y="0" style="font-size:52.00px">5</text>
<text class="sans" transform="translate(108.33,1562.57) scale(1,1.0000)" x="0.00" y="0" style="font-size:52.00px">-</text>
<text class="sans" transform="translate(125.64,1562.57) scale(1,1.0350)" x="0.00" y="0" style="font-size:52.00px">1</text>
<text class="sans" transform="translate(154.56,1562.57) scale(1,1.0000)" x="0.00" y="0" style="font-size:52.00px">.</text>
<text class="sans" transform="translate(169.01,1562.57) scale(1,1.0350)" x="0.00" y="0" style="font-size:52.00px">0</text>
<text class="sans" transform="translate(108.48,1750.35) scale(1,1.0000)" x="0.00" y="0" style="font-size:52.00px">-</text>
<text class="sans" transform="translate(125.80,1750.35) scale(1,1.0350)" x="0.00" y="0" style="font-size:52.00px">1</text>
<text class="sans" transform="translate(154.72,1750.35) scale(1,1.0000)" x="0.00" y="0" style="font-size:52.00px">.</text>
<text class="sans" transform="translate(169.16,1750.35) scale(1,1.0350)" x="0.00" y="0" style="font-size:52.00px">5</text>
<text class="sans" transform="translate(108.33,1938.13) scale(1,1.0000)" x="0.00" y="0" style="font-size:52.00px">-</text>
<text class="sans" transform="translate(125.64,1938.13) scale(1,1.0350)" x="0.00" y="0" style="font-size:52.00px">2</text>
<text class="sans" transform="translate(154.56,1938.13) scale(1,1.0000)" x="0.00" y="0" style="font-size:52.00px">.</text>
<text class="sans" transform="translate(169.01,1938.13) scale(1,1.0350)" x="0.00" y="0" style="font-size:52.00px">0</text>
<text class="sans" transform="translate(287.27,2095.00) scale(1,1.0350)" x="0.00" y="0" style="font-size:52.00px">0</text>
<text class="sans" transform="translate(415.97,2095.00) scale(1,1.0350)" x="0.00" y="0" style="font-size:52.00px">0</text>
<text class="sans" transform="translate(444.89,2095.00) scale(1,1.0000)" x="0.00" y="0" style="font-size:52.00px">.</text>
<text class="sans" transform="translate(459.34,2095.00) scale(1,1.0350)" x="0.00" y="0" style="font-size:52.00px">2</text>
<text class="sans" transform="translate(559.27,2095.00) scale(1,1.0350)" x="0.00" y="0" style="font-size:52.00px">0</text>
<text class="sans" transform="translate(588.19,2095.00) scale(1,1.0000)" x="0.00" y="0" style="font-size:52.00px">.</text>
<text class="sans" transform="translate(602.64,2095.00) scale(1,1.0350)" x="0.00" y="0" style="font-size:52.00px">4</text>
<text class="sans" transform="translate(702.37,2095.00) scale(1,1.0350)" x="0.00" y="0" style="font-size:52.00px">0</text>
<text class="sans" transform="translate(731.29,2095.00) scale(1,1.0000)" x="0.00" y="0" style="font-size:52.00px">.</text>
<text class="sans" transform="translate(745.74,2095.00) scale(1,1.0350)" x="0.00" y="0" style="font-size:52.00px">6</text>
<text class="sans" transform="translate(846.07,2095.00) scale(1,1.0350)" x="0.00" y="0" style="font-size:52.00px">0</text>
<text class="sans" transform="translate(874.99,2095.00) scale(1,1.0000)" x="0.00" y="0" style="font-size:52.00px">.</text>
<text class="sans" transform="translate(889.44,2095.00) scale(1,1.0350)" x="0.00" y="0" style="font-size:52.00px">8</text>
<text class="sans" transform="translate(1004.94,2095.00) scale(1,1.0350)" x="0.00" y="0" style="font-size:52.00px">1</text>
<text class="sans" transform="translate(1033.86,2095.00) scale(1,1.0000)" x="0.00" y="0" style="font-size:52.00px">.</text>
<text class="sans" transform="translate(1048.31,2095.00) scale(1,1.0350)" x="0.00" y="0" style="font-size:52.00px">0</text>
<text class="sans" transform="translate(558.24,2177.70) scale(1,1.0350)" x="0.00 41.62 83.24" y="0" style="font-size:62.40px">EVI</text>
<text class="sans" transform="translate(676.15,2177.70) scale(1,0.9850)" x="0.00 34.70 65.90" y="0" style="font-size:62.40px">avg</text>
<text class="serif" transform="translate(73.70,1751.38) rotate(-90) scale(1,1.0350)" x="0.00" y="0" style="font-size:62.60px">Ψ</text>
<text class="sans" transform="translate(89.70,1704.04) rotate(-90) scale(1,0.9850)" x="0.00 24.10 37.49 64.30" y="0" style="font-size:48.20px">stem</text>
<text class="sans" transform="translate(73.90,1582.17) rotate(-90) scale(1,1.0000)" x="0.00" y="0" style="font-size:57.50px">(</text>
<text class="sans" transform="translate(73.90,1563.02) rotate(-90) scale(1,1.0350)" x="0.00 47.90" y="0" style="font-size:57.50px">MP</text>
<text class="sans" transform="translate(73.90,1476.77) rotate(-90) scale(1,0.9850)" x="0.00" y="0" style="font-size:57.50px">a</text>
<text class="sans" transform="translate(73.90,1444.79) rotate(-90) scale(1,1.0000)" x="0.00" y="0" style="font-size:57.50px">)</text>
<text class="sans it" transform="translate(286.44,1236.70) scale(1,0.9850)" x="0.00" y="0" style="font-size:52.00px">r</text>
<text class="sans" transform="translate(339.56,1236.70) scale(1,1.0000)" x="0.00" y="0" style="font-size:52.00px">=</text>
<text class="sans" transform="translate(384.38,1236.70) scale(1,1.0350)" x="0.00" y="0" style="font-size:52.00px">0</text>
<text class="sans" transform="translate(413.30,1236.70) scale(1,1.0000)" x="0.00" y="0" style="font-size:52.00px">.</text>
<text class="sans" transform="translate(427.74,1236.70) scale(1,1.0350)" x="0.00 28.92" y="0" style="font-size:52.00px">63</text>
<text class="sans" transform="translate(286.67,1299.00) scale(1,0.9850)" x="0.00" y="0" style="font-size:52.00px">y</text>
<text class="sans" transform="translate(338.16,1299.00) scale(1,1.0000)" x="0.00 30.37 44.81" y="0" style="font-size:52.00px">= -</text>
<text class="sans" transform="translate(400.29,1299.00) scale(1,1.0350)" x="0.00" y="0" style="font-size:52.00px">1</text>
<text class="sans" transform="translate(429.21,1299.00) scale(1,1.0000)" x="0.00" y="0" style="font-size:52.00px">.</text>
<text class="sans" transform="translate(443.66,1299.00) scale(1,1.0350)" x="0.00 28.92 57.84" y="0" style="font-size:52.00px">532</text>
<text class="sans" transform="translate(544.87,1299.00) scale(1,1.0000)" x="0.00" y="0" style="font-size:52.00px">+</text>
<text class="sans" transform="translate(589.68,1299.00) scale(1,1.0350)" x="0.00" y="0" style="font-size:52.00px">0</text>
<text class="sans" transform="translate(618.60,1299.00) scale(1,1.0000)" x="0.00" y="0" style="font-size:52.00px">.</text>
<text class="sans" transform="translate(633.05,1299.00) scale(1,1.0350)" x="0.00 28.92 57.84" y="0" style="font-size:52.00px">818</text>
<text class="sans" transform="translate(734.25,1299.00) scale(1,0.9850)" x="0.00" y="0" style="font-size:52.00px">x</text>
<text class="sans" transform="translate(285.13,1361.60) scale(1,1.0350)" x="0.00" y="0" style="font-size:52.00px">N</text>
<text class="sans" transform="translate(337.13,1361.60) scale(1,1.0000)" x="0.00" y="0" style="font-size:52.00px">=</text>
<text class="sans" transform="translate(381.95,1361.60) scale(1,1.0350)" x="0.00 28.92 57.84" y="0" style="font-size:52.00px">970</text>
<text class="sans" transform="translate(1008.15,1984.10) scale(1,1.0000)" x="0.00" y="0" style="font-size:62.00px">(</text>
<text class="sans" transform="translate(1028.80,1984.10) scale(1,0.9850)" x="0.00" y="0" style="font-size:62.00px">c</text>
<text class="sans" transform="translate(1059.80,1984.10) scale(1,1.0000)" x="0.00" y="0" style="font-size:62.00px">)</text>
<path d="M1436.0 1599.3L2202.0 1272.1M1436.0 1704.7L2202.0 1420.5M1436.0 1712.7L2202.0 1434.3M1436.0 1720.7L2050.4 1379.5M1436.0 1746.5L2202.0 1360.6M1436.0 1756.5L2202.0 1279.4M1436.0 1792.3L2021.5 1565.1M1436.0 1806.2L2202.0 1497.8M1436.0 1832.1L1828.9 1676.5M1436.0 1856.0L1801.4 1637.6M1436.0 1925.6L2202.0 1382.9M1436.0 1931.6L2035.2 1553.4M1436.0 1979.3L2202.0 1414.0M1714.4 1501.6L2202.0 1263.0M1436.0 1760.0L2202.0 1302.8M1803.6 1485.3L2202.0 1314.7M1436.0 1782.8L2202.0 1326.7M1436.0 1796.3L2202.0 1332.6M1552.9 1740.1L2202.0 1336.6M1586.7 1764.7L2202.0 1346.6M1436.0 1914.0L2202.0 1358.5M1815.1 1523.3L2202.0 1374.4M1667.9 1696.4L2202.0 1382.4M1436.0 1752.8L2202.0 1394.3M1845.5 1589.3L2202.0 1406.3M1436.0 1735.1L2202.0 1438.1M1833.4 1644.6L2202.0 1450.0M1778.3 1624.1L2202.0 1458.0M1799.7 1661.4L2202.0 1473.9M1696.2 1714.7L2202.0 1485.9M1436.0 1798.8L2202.0 1501.8M1436.0 1905.6L2202.0 1509.7M1436.0 1834.8L2202.0 1557.5M1436.0 1849.8L2202.0 1569.4M1471.8 1557.5L1873.7 1394.3M1493.7 1577.4L1905.6 1381.6M1545.4 1611.2L1953.3 1369.7M1459.8 1661.0L1999.1 1364.5M1581.2 1804.2L2132.4 1639.1M1603.1 1859.9L2192.1 1557.5M1509.6 1700.8L2040.9 1360.5M1485.7 1808.2L2126.4 1350.6M1497.7 1850.0L1828.0 1621.2M1684.4 1532.6L1993.3 1385.2M1947.4 1475.6L2202.0 1317.3M1885.5 1516.4L2064.4 1446.8M1916.4 1622.1L2202.0 1472.7M1931.2 1439.9L2202.0 1314.2M1578.6 1795.6L1870.3 1538.4M1832.3 1535.2L2202.0 1349.0M1888.7 1530.5L2122.2 1372.1M1808.8 1521.8L2007.0 1433.5M1888.9 1565.2L2130.3 1419.8M1492.4 1800.9L1831.8 1594.6M1659.1 1750.0L2024.1 1461.4M1727.1 1532.0L2185.6 1300.2M1618.5 1771.5L2058.9 1553.0M1515.8 1826.3L1661.3 1694.2M1736.6 1676.6L2195.2 1471.6M1755.0 1618.5L1904.4 1563.8M1807.4 1617.3L1984.9 1444.6M1777.2 1682.4L2063.3 1537.2M1545.7 1680.4L1862.7 1426.1M1836.0 1476.2L2110.6 1351.6M1642.1 1758.1L2029.0 1530.8M1964.5 1417.9L2202.0 1307.6M1772.5 1712.5L1960.6 1556.3M1964.3 1516.1L2107.5 1437.8M1697.4 1545.4L2102.1 1399.7M1808.7 1547.4L2035.3 1410.5M1981.2 1412.6L2202.0 1330.3M1704.9 1534.5L1987.6 1423.5M1693.7 1592.2L2088.2 1355.2M1875.2 1520.2L2202.0 1314.8M1904.0 1467.8L2050.3 1386.3M1715.2 1621.3L1894.5 1472.0M1953.0 1463.8L2202.0 1303.3M1928.0 1576.5L2079.3 1500.7M1953.8 1575.1L2202.0 1450.6M1893.7 1477.6L2202.0 1362.1M1909.2 1515.6L2202.0 1334.2M1904.7 1561.6L2141.3 1375.7M1823.6 1571.2L2188.1 1380.1M1884.9 1619.1L2202.0 1414.8M1909.8 1546.5L2202.0 1351.1M1858.5 1580.9L2202.0 1447.9M1821.4 1575.5L1966.4 1500.1M1550.9 1648.9L1925.3 1421.9M1606.0 1590.0L1795.3 1477.0M1892.9 1508.5L2079.0 1383.0M1846.5 1601.3L2005.4 1502.0M1882.8 1603.7L2102.2 1473.0M1857.2 1660.8L2202.0 1442.7M1638.0 1674.8L1903.6 1419.7M1925.3 1513.8L2202.0 1321.6M1706.2 1651.1L1925.9 1512.2M1552.0 1750.9L1739.7 1629.7M1972.7 1603.8L2202.0 1446.5M1462.0 1832.4L1795.9 1477.1M1469.8 1815.7L1799.6 1569.2M1473.2 1839.6L1753.1 1501.8M1602.5 1617.6L1850.1 1434.2M1554.7 1743.1L1744.0 1538.2M1637.8 1718.2L1926.3 1407.8M1528.7 1748.4L1839.5 1499.6" stroke="#c0c0c0" stroke-width="1.25" fill="none"/>
<path d="M1435.9 1767.0L2202.7 1423.4" stroke="#000" stroke-width="6.3" fill="none"/>
<path d="M1413.42 2023.9V2016.4M1413.42 1162.1V1169.6M1450.33 2023.9V2008.4M1450.33 1162.1V1177.6M1487.25 2023.9V2016.4M1487.25 1162.1V1169.6M1524.17 2023.9V2016.4M1524.17 1162.1V1169.6M1561.08 2023.9V2016.4M1561.08 1162.1V1169.6M1598 2023.9V2008.4M1598 1162.1V1177.6M1634.92 2023.9V2016.4M1634.92 1162.1V1169.6M1671.83 2023.9V2016.4M1671.83 1162.1V1169.6M1708.75 2023.9V2016.4M1708.75 1162.1V1169.6M1745.67 2023.9V2008.4M1745.67 1162.1V1177.6M1782.58 2023.9V2016.4M1782.58 1162.1V1169.6M1819.5 2023.9V2016.4M1819.5 1162.1V1169.6M1856.42 2023.9V2016.4M1856.42 1162.1V1169.6M1893.33 2023.9V2008.4M1893.33 1162.1V1177.6M1930.25 2023.9V2016.4M1930.25 1162.1V1169.6M1967.17 2023.9V2016.4M1967.17 1162.1V1169.6M2004.08 2023.9V2016.4M2004.08 1162.1V1169.6M2041 2023.9V2008.4M2041 1162.1V1177.6M2077.92 2023.9V2016.4M2077.92 1162.1V1169.6M2114.83 2023.9V2016.4M2114.83 1162.1V1169.6M2151.75 2023.9V2016.4M2151.75 1162.1V1169.6M2188.67 2023.9V2008.4M2188.67 1162.1V1177.6M2225.58 2023.9V2016.4M2225.58 1162.1V1169.6M1377.5 1198.66H1385M2261.5 1198.66H2254M1377.5 1236.21H1385M2261.5 1236.21H2254M1377.5 1273.77H1385M2261.5 1273.77H2254M1377.5 1311.33H1385M2261.5 1311.33H2254M1377.5 1348.88H1393M2261.5 1348.88H2246M1377.5 1386.44H1385M2261.5 1386.44H2254M1377.5 1424H1385M2261.5 1424H2254M1377.5 1461.55H1385M2261.5 1461.55H2254M1377.5 1499.11H1385M2261.5 1499.11H2254M1377.5 1536.67H1393M2261.5 1536.67H2246M1377.5 1574.22H1385M2261.5 1574.22H2254M1377.5 1611.78H1385M2261.5 1611.78H2254M1377.5 1649.33H1385M2261.5 1649.33H2254M1377.5 1686.89H1385M2261.5 1686.89H2254M1377.5 1724.45H1393M2261.5 1724.45H2246M1377.5 1762H1385M2261.5 1762H2254M1377.5 1799.56H1385M2261.5 1799.56H2254M1377.5 1837.12H1385M2261.5 1837.12H2254M1377.5 1874.67H1385M2261.5 1874.67H2254M1377.5 1912.23H1393M2261.5 1912.23H2246M1377.5 1949.79H1385M2261.5 1949.79H2254M1377.5 1987.34H1385M2261.5 1987.34H2254" stroke="#000" stroke-width="2.3" stroke-linecap="round" fill="none"/>
<rect x="1376.5" y="1161.1" width="886" height="863.8" stroke="#000" stroke-width="2.45" fill="none"/>
<text class="sans" transform="translate(1321.51,1185.70) scale(1,1.0350)" x="0.00" y="0" style="font-size:52.00px">0</text>
<text class="sans" transform="translate(1260.98,1373.48) scale(1,1.0000)" x="0.00" y="0" style="font-size:52.00px">-</text>
<text class="sans" transform="translate(1278.30,1373.48) scale(1,1.0350)" x="0.00" y="0" style="font-size:52.00px">0</text>
<text class="sans" transform="translate(1307.22,1373.48) scale(1,1.0000)" x="0.00" y="0" style="font-size:52.00px">.</text>
<text class="sans" transform="translate(1321.66,1373.48) scale(1,1.0350)" x="0.00" y="0" style="font-size:52.00px">5</text>
<text class="sans" transform="translate(1260.83,1561.27) scale(1,1.0000)" x="0.00" y="0" style="font-size:52.00px">-</text>
<text class="sans" transform="translate(1278.14,1561.27) scale(1,1.0350)" x="0.00" y="0" style="font-size:52.00px">1</text>
<text class="sans" transform="translate(1307.06,1561.27) scale(1,1.0000)" x="0.00" y="0" style="font-size:52.00px">.</text>
<text class="sans" transform="translate(1321.51,1561.27) scale(1,1.0350)" x="0.00" y="0" style="font-size:52.00px">0</text>
<text class="sans" transform="translate(1260.98,1749.05) scale(1,1.0000)" x="0.00" y="0" style="font-size:52.00px">-</text>
<text class="sans" transform="translate(1278.30,1749.05) scale(1,1.0350)" x="0.00" y="0" style="font-size:52.00px">1</text>
<text class="sans" transform="translate(1307.22,1749.05) scale(1,1.0000)" x="0.00" y="0" style="font-size:52.00px">.</text>
<text class="sans" transform="translate(1321.66,1749.05) scale(1,1.0350)" x="0.00" y="0" style="font-size:52.00px">5</text>
<text class="sans" transform="translate(1260.83,1936.83) scale(1,1.0000)" x="0.00" y="0" style="font-size:52.00px">-</text>
<text class="sans" transform="translate(1278.14,1936.83) scale(1,1.0350)" x="0.00" y="0" style="font-size:52.00px">2</text>
<text class="sans" transform="translate(1307.06,1936.83) scale(1,1.0000)" x="0.00" y="0" style="font-size:52.00px">.</text>
<text class="sans" transform="translate(1321.51,1936.83) scale(1,1.0350)" x="0.00" y="0" style="font-size:52.00px">0</text>
<text class="sans" transform="translate(1440.07,2092.40) scale(1,1.0350)" x="0.00" y="0" style="font-size:52.00px">0</text>
<text class="sans" transform="translate(1568.77,2092.40) scale(1,1.0350)" x="0.00" y="0" style="font-size:52.00px">0</text>
<text class="sans" transform="translate(1597.69,2092.40) scale(1,1.0000)" x="0.00" y="0" style="font-size:52.00px">.</text>
<text class="sans" transform="translate(1612.14,2092.40) scale(1,1.0350)" x="0.00" y="0" style="font-size:52.00px">2</text>
<text class="sans" transform="translate(1712.07,2092.40) scale(1,1.0350)" x="0.00" y="0" style="font-size:52.00px">0</text>
<text class="sans" transform="translate(1740.99,2092.40) scale(1,1.0000)" x="0.00" y="0" style="font-size:52.00px">.</text>
<text class="sans" transform="translate(1755.44,2092.40) scale(1,1.0350)" x="0.00" y="0" style="font-size:52.00px">4</text>
<text class="sans" transform="translate(1855.17,2092.40) scale(1,1.0350)" x="0.00" y="0" style="font-size:52.00px">0</text>
<text class="sans" transform="translate(1884.09,2092.40) scale(1,1.0000)" x="0.00" y="0" style="font-size:52.00px">.</text>
<text class="sans" transform="translate(1898.54,2092.40) scale(1,1.0350)" x="0.00" y="0" style="font-size:52.00px">6</text>
<text class="sans" transform="translate(1998.87,2092.40) scale(1,1.0350)" x="0.00" y="0" style="font-size:52.00px">0</text>
<text class="sans" transform="translate(2027.79,2092.40) scale(1,1.0000)" x="0.00" y="0" style="font-size:52.00px">.</text>
<text class="sans" transform="translate(2042.24,2092.40) scale(1,1.0350)" x="0.00" y="0" style="font-size:52.00px">8</text>
<text class="sans" transform="translate(2157.74,2092.40) scale(1,1.0350)" x="0.00" y="0" style="font-size:52.00px">1</text>
<text class="sans" transform="translate(2186.66,2092.40) scale(1,1.0000)" x="0.00" y="0" style="font-size:52.00px">.</text>
<text class="sans" transform="translate(2201.11,2092.40) scale(1,1.0350)" x="0.00" y="0" style="font-size:52.00px">0</text>
<text class="sans" transform="translate(1689.77,2176.40) scale(1,1.0350)" x="0.00 41.62 83.24 124.86" y="0" style="font-size:62.40px">SAVI</text>
<text class="sans" transform="translate(1849.31,2176.40) scale(1,0.9850)" x="0.00 34.70 65.90" y="0" style="font-size:62.40px">avg</text>
<text class="serif" transform="translate(1225.70,1750.08) rotate(-90) scale(1,1.0350)" x="0.00" y="0" style="font-size:62.60px">Ψ</text>
<text class="sans" transform="translate(1241.70,1702.74) rotate(-90) scale(1,0.9850)" x="0.00 24.10 37.49 64.30" y="0" style="font-size:48.20px">stem</text>
<text class="sans" transform="translate(1225.90,1580.87) rotate(-90) scale(1,1.0000)" x="0.00" y="0" style="font-size:57.50px">(</text>
<text class="sans" transform="translate(1225.90,1561.72) rotate(-90) scale(1,1.0350)" x="0.00 47.90" y="0" style="font-size:57.50px">MP</text>
<text class="sans" transform="translate(1225.90,1475.47) rotate(-90) scale(1,0.9850)" x="0.00" y="0" style="font-size:57.50px">a</text>
<text class="sans" transform="translate(1225.90,1443.49) rotate(-90) scale(1,1.0000)" x="0.00" y="0" style="font-size:57.50px">)</text>
<text class="sans it" transform="translate(1434.24,1236.70) scale(1,0.9850)" x="0.00" y="0" style="font-size:52.00px">r</text>
<text class="sans" transform="translate(1487.36,1236.70) scale(1,1.0000)" x="0.00" y="0" style="font-size:52.00px">=</text>
<text class="sans" transform="translate(1532.18,1236.70) scale(1,1.0350)" x="0.00" y="0" style="font-size:52.00px">0</text>
<text class="sans" transform="translate(1561.10,1236.70) scale(1,1.0000)" x="0.00" y="0" style="font-size:52.00px">.</text>
<text class="sans" transform="translate(1575.54,1236.70) scale(1,1.0350)" x="0.00 28.92" y="0" style="font-size:52.00px">68</text>
<text class="sans" transform="translate(1434.47,1299.00) scale(1,0.9850)" x="0.00" y="0" style="font-size:52.00px">y</text>
<text class="sans" transform="translate(1485.96,1299.00) scale(1,1.0000)" x="0.00 30.37 44.81" y="0" style="font-size:52.00px">= -</text>
<text class="sans" transform="translate(1548.09,1299.00) scale(1,1.0350)" x="0.00" y="0" style="font-size:52.00px">1</text>
<text class="sans" transform="translate(1577.01,1299.00) scale(1,1.0000)" x="0.00" y="0" style="font-size:52.00px">.</text>
<text class="sans" transform="translate(1591.46,1299.00) scale(1,1.0350)" x="0.00 28.92 57.84" y="0" style="font-size:52.00px">599</text>
<text class="sans" transform="translate(1692.67,1299.00) scale(1,1.0000)" x="0.00" y="0" style="font-size:52.00px">+</text>
<text class="sans" transform="translate(1737.48,1299.00) scale(1,1.0350)" x="0.00" y="0" style="font-size:52.00px">0</text>
<text class="sans" transform="translate(1766.40,1299.00) scale(1,1.0000)" x="0.00" y="0" style="font-size:52.00px">.</text>
<text class="sans" transform="translate(1780.85,1299.00) scale(1,1.0350)" x="0.00 28.92 57.84" y="0" style="font-size:52.00px">895</text>
<text class="sans" transform="translate(1882.05,1299.00) scale(1,0.9850)" x="0.00" y="0" style="font-size:52.00px">x</text>
<text class="sans" transform="translate(1432.93,1361.60) scale(1,1.0350)" x="0.00" y="0" style="font-size:52.00px">N</text>
<text class="sans" transform="translate(1484.93,1361.60) scale(1,1.0000)" x="0.00" y="0" style="font-size:52.00px">=</text>
<text class="sans" transform="translate(1529.75,1361.60) scale(1,1.0350)" x="0.00 28.92 57.84" y="0" style="font-size:52.00px">970</text>
<text class="sans" transform="translate(2158.91,1981.20) scale(1,1.0000)" x="0.00" y="0" style="font-size:62.00px">(</text>
<text class="sans" transform="translate(2179.56,1981.20) scale(1,0.9850)" x="0.00" y="0" style="font-size:62.00px">d</text>
<text class="sans" transform="translate(2214.04,1981.20) scale(1,1.0000)" x="0.00" y="0" style="font-size:62.00px">)</text>
</svg>
</body></html>
